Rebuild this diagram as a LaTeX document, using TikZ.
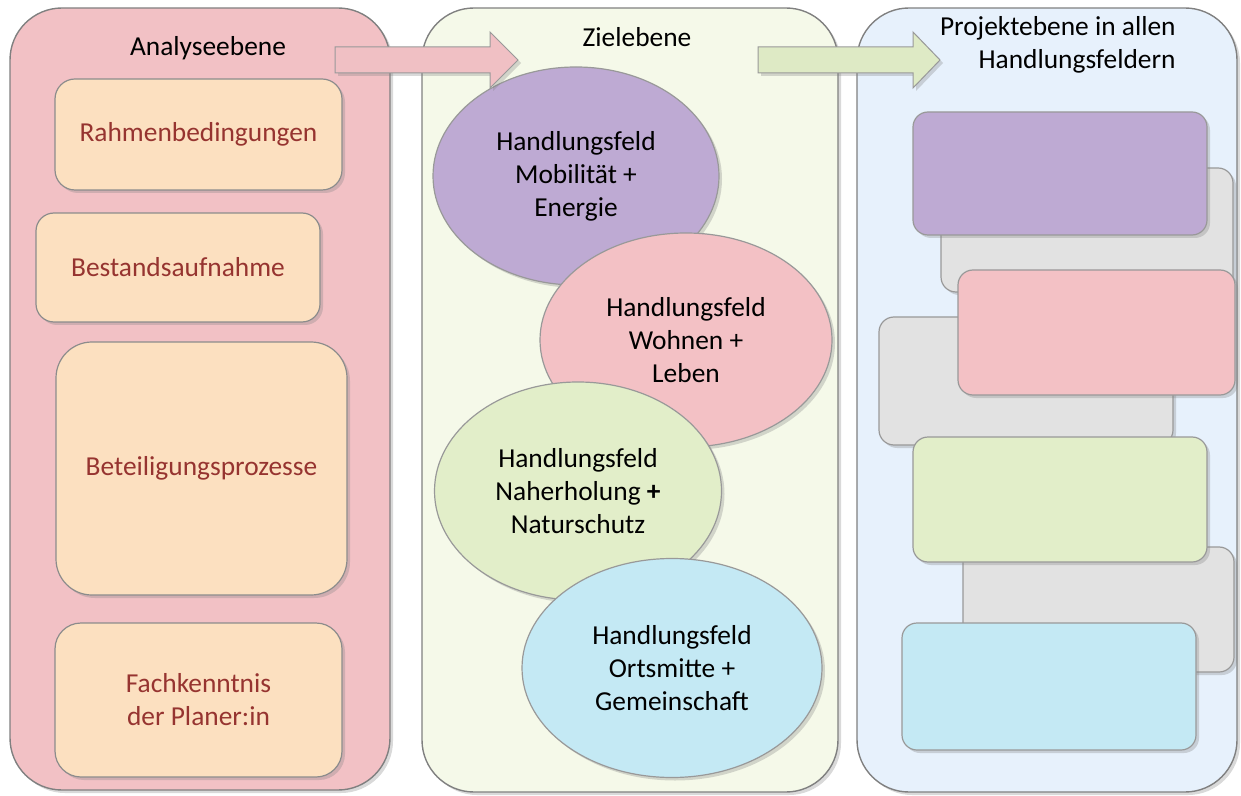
\documentclass[tikz,border=0pt]{standalone}
\usepackage{fontspec}
\setmainfont{Carlito}
\usetikzlibrary{shapes.geometric, shadows}

\definecolor{analysepink}{RGB}{242,193,197}
\definecolor{zielgreen}{RGB}{245,249,233}
\definecolor{projektblue}{RGB}{231,241,252}
\definecolor{peach}{RGB}{252,224,192}
\definecolor{rusttext}{RGB}{150,52,48}
\definecolor{feldpurple}{RGB}{190,170,211}
\definecolor{feldpink}{RGB}{243,193,197}
\definecolor{feldgreen}{RGB}{226,238,201}
\definecolor{feldblue}{RGB}{196,233,244}
\definecolor{feldgrey}{RGB}{226,226,226}
\definecolor{arrowpink}{RGB}{240,192,196}
\definecolor{arrowgreen}{RGB}{222,234,197}

\tikzset{
  txt/.style={font=\fontsize{13.7}{16.5}\selectfont, align=center, inner sep=0pt},
  shadowed/.style={drop shadow={opacity=0.3, shadow xshift=1.5pt, shadow yshift=-1.5pt}},
  panel/.style={draw=black!50, line width=0.7pt, rounded corners=26pt, shadowed},
  peachbox/.style={draw=black!45, line width=0.6pt, fill=peach, text=rusttext, txt, shadowed},
  feld/.style={ellipse, draw=black!40, line width=0.6pt, txt, shadowed},
  projbox/.style={draw=black!40, line width=0.6pt, rounded corners=7.5pt, shadowed},
  fatarrow/.style={draw=black!40, line width=0.5pt, shadowed},
}

\begin{document}
\begin{tikzpicture}[x=0.5pt, y=-0.5pt]
  \useasboundingbox (0,0) rectangle (1241,796);

  % Three levels
  \node[panel, fill=analysepink, minimum width=190pt, minimum height=391pt] (analyse) at (200,399) {};
  \node[panel, fill=zielgreen, minimum width=208pt, minimum height=392pt] (ziel) at (630,400) {};
  \node[panel, fill=projektblue, minimum width=190pt, minimum height=392pt] (projekt) at (1047,400) {};

  % Titles
  \node[txt] (analysetitle) at (208,48) {Analyseebene};
  \node[txt] (zieltitle) at (637,37) {Zielebene};
  \node[txt, align=right, anchor=east] (projekttitle) at (1176,45) {Projektebene in allen\\Handlungsfeldern};

  % Analyseebene
  \node[peachbox, rounded corners=10pt, minimum width=143.5pt, minimum height=55.5pt] (rahmen) at (198.5,134.5) {Rahmenbedingungen};
  \node[peachbox, rounded corners=9pt, minimum width=142pt, minimum height=54.5pt] (bestand) at (178,267.5) {Bestandsaufnahme};
  \node[peachbox, rounded corners=18pt, minimum width=145.5pt, minimum height=126.5pt] (beteiligung) at (201.5,468.5) {Beteiligungsprozesse};
  \node[peachbox, rounded corners=13pt, minimum width=143.5pt, minimum height=77pt] (fachkenntnis) at (198.5,700) {Fachkenntnis\\der Planer:in};

  % Zielebene
  \node[feld, fill=feldpurple, minimum width=143pt, minimum height=109pt] (mobil) at (576,176) {Handlungsfeld\\Mobilität +\\Energie};
  \node[feld, fill=feldpink, minimum width=146pt, minimum height=107pt] (wohnen) at (686,340) {Handlungsfeld\\Wohnen +\\Leben};
  \node[feld, fill=feldgreen, minimum width=143.5pt, minimum height=109pt] (natur) at (578,491) {Handlungsfeld\\Naherholung \textbf{+}\\Naturschutz};
  \node[feld, fill=feldblue, minimum width=150pt, minimum height=109.5pt] (ortsmitte) at (672,668) {Handlungsfeld\\Ortsmitte +\\Gemeinschaft};

  % Projektebene
  \node[projbox, fill=feldgrey, minimum width=146pt, minimum height=62pt] (grey1) at (1087,230) {};
  \node[projbox, fill=feldgrey, minimum width=147pt, minimum height=64pt] (grey2) at (1026,381) {};
  \node[projbox, fill=feldgrey, minimum width=135.5pt, minimum height=62.5pt] (grey3) at (1098.5,609.5) {};
  \node[projbox, fill=feldpurple, minimum width=147pt, minimum height=61.5pt] (projmobil) at (1060,173.5) {};
  \node[projbox, fill=feldpink, minimum width=138.5pt, minimum height=62.5pt] (projwohnen) at (1096.5,332.5) {};
  \node[projbox, fill=feldgreen, minimum width=147pt, minimum height=62.5pt] (projnatur) at (1060,499.5) {};
  \node[projbox, fill=feldblue, minimum width=147pt, minimum height=63.5pt] (projort) at (1049,686.5) {};

  % Arrows between the levels
  \coordinate (arrowA) at (335,60);
  \coordinate (arrowB) at (758,60);
  \draw[fatarrow, fill=arrowpink] (arrowA) ++(0,-13) -- ++(155,0) -- ++(0,-15) -- ++(28,28)
    -- ++(-28,28) -- ++(0,-15) -- ++(-155,0) -- cycle;
  \draw[fatarrow, fill=arrowgreen] (arrowB) ++(0,-13) -- ++(155,0) -- ++(0,-15) -- ++(27,28)
    -- ++(-27,28) -- ++(0,-15) -- ++(-155,0) -- cycle;
\end{tikzpicture}
\end{document}
